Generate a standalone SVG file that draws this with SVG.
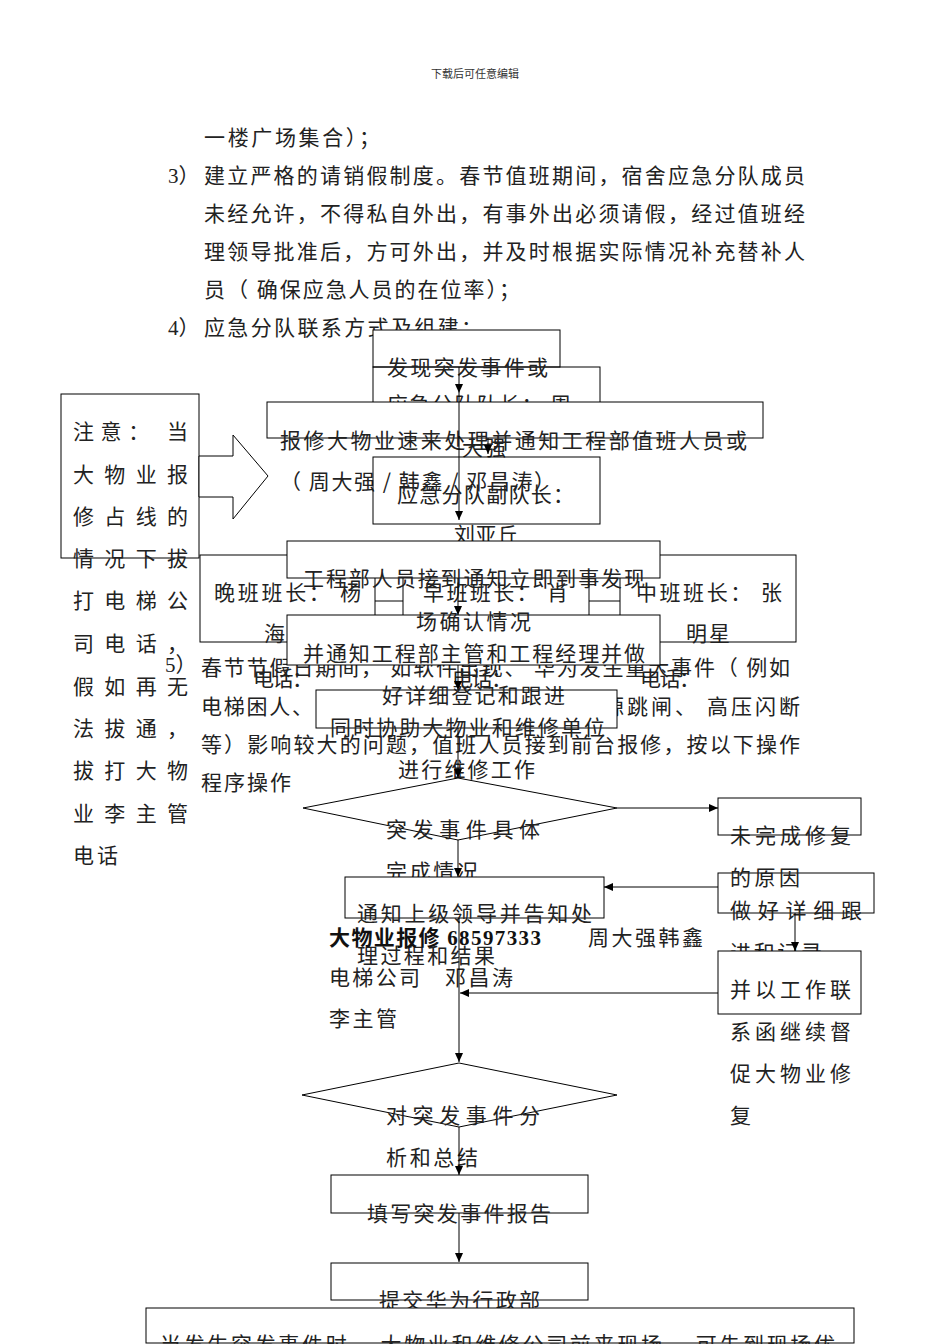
<svg xmlns="http://www.w3.org/2000/svg" width="950" height="1344" viewBox="0 0 950 1344">
<defs>
<style>
.t{font-family:"Noto Sans CJK SC","Noto Sans",sans-serif;font-size:21px;fill:#222}
.h{font-family:"Noto Sans CJK SC",sans-serif;font-size:11px;fill:#333}
.bd{font-family:"Noto Sans CJK SC",sans-serif;font-size:21px;font-weight:bold;fill:#111}
.num{font-family:"Liberation Serif",serif}
.w{fill:#fff;stroke:#000;stroke-width:1}
.o{fill:none;stroke:#000;stroke-width:1}
.c{fill:none;stroke:#000;stroke-width:1}
</style>
<marker id="ah" markerWidth="10" markerHeight="10" refX="9" refY="4" orient="auto" markerUnits="userSpaceOnUse"><path d="M0,0 L9,4 L0,8 Z" fill="#000"/></marker>
</defs>
<rect width="950" height="1344" fill="#fff"/>
<text class="h" x="475" y="78" text-anchor="middle">下载后可任意编辑</text>

<g id="body">
<text class="t" x="204" y="145" textLength="176" lengthAdjust="spacing">一楼广场集合）；</text>
<text class="t" x="168" y="183"><tspan class="num">3</tspan>）</text>
<text class="t" x="204" y="183" textLength="601" lengthAdjust="spacing">建立严格的请销假制度。春节值班期间，宿舍应急分队成员</text>
<text class="t" x="204" y="221" textLength="601" lengthAdjust="spacing">未经允许，不得私自外出，有事外出必须请假，经过值班经</text>
<text class="t" x="204" y="259" textLength="601" lengthAdjust="spacing">理领导批准后，方可外出，并及时根据实际情况补充替补人</text>
<text class="t" x="204" y="297" textLength="316" lengthAdjust="spacing">员（ 确保应急人员的在位率）；</text>
<text class="t" x="168" y="335"><tspan class="num">4</tspan>）</text>
<text class="t" x="204" y="335" textLength="278" lengthAdjust="spacing">应急分队联系方式及组建：</text>
<text class="t" x="165" y="672"><tspan class="num">5</tspan>）</text>
<text class="t" x="201" y="675" textLength="589" lengthAdjust="spacing">春节节假日期间， 如软件出现、 华为发生重大事件（ 例如</text>
<text class="t" x="201" y="714" textLength="112" lengthAdjust="spacing">电梯困人、</text>
<text class="t" x="603" y="714" textLength="197" lengthAdjust="spacing">源跳闸、 高压闪断</text>
<text class="t" x="201" y="752" textLength="599" lengthAdjust="spacing">等）影响较大的问题，值班人员接到前台报修，按以下操作</text>
<text class="t" x="201" y="790" textLength="90" lengthAdjust="spacing">程序操作</text>
</g>

<g id="note">
<rect class="w" x="61" y="394" width="138" height="164"/>
<polygon class="w" points="199,456 233,456 233,435 268,476 233,519 233,497 199,497"/>
<text class="t" x="73" y="439" textLength="115" lengthAdjust="spacing">注意： 当</text>
<text class="t" x="73" y="482" textLength="115" lengthAdjust="spacing">大物业报</text>
<text class="t" x="73" y="524" textLength="115" lengthAdjust="spacing">修占线的</text>
<text class="t" x="73" y="566" textLength="115" lengthAdjust="spacing">情况下拔</text>
<text class="t" x="73" y="608" textLength="115" lengthAdjust="spacing">打电梯公</text>
<text class="t" x="73" y="651" textLength="115" lengthAdjust="spacing">司电话，</text>
<text class="t" x="73" y="694" textLength="115" lengthAdjust="spacing">假如再无</text>
<text class="t" x="73" y="736" textLength="115" lengthAdjust="spacing">法拔通，</text>
<text class="t" x="73" y="778" textLength="115" lengthAdjust="spacing">拔打大物</text>
<text class="t" x="73" y="821" textLength="115" lengthAdjust="spacing">业李主管</text>
<text class="t" x="73" y="863" textLength="45" lengthAdjust="spacing">电话</text>
</g>

<g id="nodeA">
<rect class="w" x="373" y="330" width="187" height="37"/>
</g>
<g id="nodeB">
<rect class="o" x="373" y="367" width="227" height="40"/>
<text class="t" x="387" y="375" textLength="161" lengthAdjust="spacing">发现突发事件或</text>
<text class="t" x="387" y="412" textLength="184" lengthAdjust="spacing">应急分队队长： 周</text>
<text class="t" x="462" y="455" textLength="44" lengthAdjust="spacing">大强</text>
</g>
<g id="nodeC">
<rect class="w" x="267" y="402" width="496" height="36"/>
<text class="t" x="280" y="448" textLength="467" lengthAdjust="spacing">报修大物业速来处理并通知工程部值班人员或</text>
<text class="t" x="280" y="489" textLength="275" lengthAdjust="spacing">（ 周大强 / 韩鑫 / 邓昌涛）</text>
</g>
<g id="nodeD">
<rect class="o" x="373" y="457" width="227" height="67"/>
<text class="t" x="397" y="502" textLength="177" lengthAdjust="spacing">应急分队副队长：</text>
<text class="t" x="454" y="542" textLength="64" lengthAdjust="spacing">刘亚丘</text>
</g>

<g id="shifts">
<rect class="w" x="200" y="555" width="175" height="87"/>
<rect class="w" x="403" y="555" width="186" height="87"/>
<rect class="w" x="620" y="555" width="176" height="87"/>
<line class="c" x1="375" y1="601" x2="403" y2="601"/>
<line class="c" x1="589" y1="601" x2="620" y2="601"/>
<text class="t" x="214" y="600" textLength="147" lengthAdjust="spacing">晚班班长： 杨</text>
<text class="t" x="264" y="641">海</text>
<text class="t" x="253" y="686" textLength="60" lengthAdjust="spacing">电话：</text>
<text class="t" x="423" y="600" textLength="145" lengthAdjust="spacing">早班班长： 肖</text>
<text class="t" x="452" y="686" textLength="60" lengthAdjust="spacing">电话：</text>
<text class="t" x="636" y="600" textLength="146" lengthAdjust="spacing">中班班长： 张</text>
<text class="t" x="686" y="641" textLength="44" lengthAdjust="spacing">明星</text>
<text class="t" x="640" y="686" textLength="60" lengthAdjust="spacing">电话：</text>
</g>

<g id="nodeE"><rect class="w" x="287" y="541" width="373" height="37"/></g>
<g id="nodeF"><rect class="w" x="287" y="615" width="373" height="50"/></g>
<g id="nodeG"><rect class="w" x="316" y="690" width="301" height="38"/></g>
<g id="texts-EFG">
<text class="t" x="303" y="586" textLength="342" lengthAdjust="spacing">工程部人员接到通知立即到事发现</text>
<text class="t" x="416" y="629" textLength="115" lengthAdjust="spacing">场确认情况</text>
<text class="t" x="303" y="661" textLength="342" lengthAdjust="spacing">并通知工程部主管和工程经理并做</text>
<text class="t" x="382" y="703" textLength="183" lengthAdjust="spacing">好详细登记和跟进</text>
<text class="t" x="330" y="735" textLength="275" lengthAdjust="spacing">同时协助大物业和维修单位</text>
<text class="t" x="398" y="777" textLength="137" lengthAdjust="spacing">进行维修工作</text>
</g>

<g id="dec1">
<polygon class="w" points="458,778 617,808 458,840 303,808"/>
<text class="t" x="386" y="837" textLength="154" lengthAdjust="spacing">突发事件具体</text>
<text class="t" x="386" y="879" textLength="92" lengthAdjust="spacing">完成情况</text>
</g>
<g id="nodeH">
<rect class="w" x="718" y="798" width="143" height="37"/>
<text class="t" x="730" y="843" textLength="121" lengthAdjust="spacing">未完成修复</text>
</g>
<g id="nodeI">
<rect class="o" x="718" y="873" width="156" height="40"/>
<text class="t" x="730" y="885" textLength="70" lengthAdjust="spacing">的原因</text>
<text class="t" x="730" y="918" textLength="132" lengthAdjust="spacing">做好详细跟</text>
<text class="t" x="730" y="960" textLength="92" lengthAdjust="spacing">进和记录</text>
</g>
<g id="nodeJ">
<rect class="w" x="718" y="951" width="143" height="63"/>
<text class="t" x="730" y="997" textLength="121" lengthAdjust="spacing">并以工作联</text>
<text class="t" x="730" y="1039" textLength="121" lengthAdjust="spacing">系函继续督</text>
<text class="t" x="730" y="1081" textLength="121" lengthAdjust="spacing">促大物业修</text>
<text class="t" x="730" y="1123">复</text>
</g>
<g id="nodeK">
<rect class="w" x="345" y="877" width="259" height="41"/>
<text class="t" x="357" y="921" textLength="235" lengthAdjust="spacing">通知上级领导并告知处</text>
<text class="t" x="357" y="963" textLength="138" lengthAdjust="spacing">理过程和结果</text>
</g>
<g id="contacts">
<text class="bd" x="329" y="945" textLength="212" lengthAdjust="spacing">大物业报修 <tspan class="num">68597333</tspan></text>
<text class="t" x="588" y="945" textLength="115" lengthAdjust="spacing">周大强韩鑫</text>
<text class="t" x="329" y="985" textLength="91" lengthAdjust="spacing">电梯公司</text>
<text class="t" x="445" y="985" textLength="68" lengthAdjust="spacing">邓昌涛</text>
<text class="t" x="329" y="1026" textLength="68" lengthAdjust="spacing">李主管</text>
</g>
<g id="dec2">
<polygon class="w" points="459,1063 617,1095 459,1127 302,1095"/>
<text class="t" x="386" y="1123" textLength="154" lengthAdjust="spacing">对突发事件分</text>
<text class="t" x="386" y="1165" textLength="92" lengthAdjust="spacing">析和总结</text>
</g>
<g id="nodeL">
<rect class="w" x="331" y="1175" width="257" height="38"/>
<text class="t" x="367" y="1221" textLength="184" lengthAdjust="spacing">填写突发事件报告</text>
</g>
<g id="nodeM">
<rect class="w" x="331" y="1263" width="257" height="37"/>
<text class="t" x="379" y="1308" textLength="161" lengthAdjust="spacing">提交华为行政部</text>
</g>
<g id="nodeN">
<rect class="w" x="146" y="1308" width="708" height="35"/>
<text class="t" x="160" y="1352" textLength="675" lengthAdjust="spacing">当发生突发事件时，  大物业和维修公司前来现场，  可先到现场优</text>
</g>

<g id="connectors">
<line class="c" x1="459" y1="367" x2="459" y2="393" marker-end="url(#ah)"/>
<line class="c" x1="459" y1="393" x2="459" y2="520" marker-end="url(#ah)"/>
<line class="c" x1="488" y1="438" x2="488" y2="454" marker-end="url(#ah)"/>
<line class="c" x1="458" y1="578" x2="458" y2="615" marker-end="url(#ah)"/>
<line class="c" x1="458" y1="665" x2="458" y2="690" marker-end="url(#ah)"/>
<line class="c" x1="458" y1="728" x2="458" y2="778" marker-end="url(#ah)"/>
<line class="c" x1="617" y1="808" x2="718" y2="808" marker-end="url(#ah)"/>
<line class="c" x1="458" y1="840" x2="458" y2="877" marker-end="url(#ah)"/>
<line class="c" x1="459" y1="918" x2="459" y2="1062" marker-end="url(#ah)"/>
<line class="c" x1="718" y1="887" x2="604" y2="887" marker-end="url(#ah)"/>
<line class="c" x1="795" y1="913" x2="795" y2="951" marker-end="url(#ah)"/>
<line class="c" x1="718" y1="993" x2="460" y2="993" marker-end="url(#ah)"/>
<line class="c" x1="459" y1="1127" x2="459" y2="1175" marker-end="url(#ah)"/>
<line class="c" x1="459" y1="1213" x2="459" y2="1262" marker-end="url(#ah)"/>
</g>
</svg>
